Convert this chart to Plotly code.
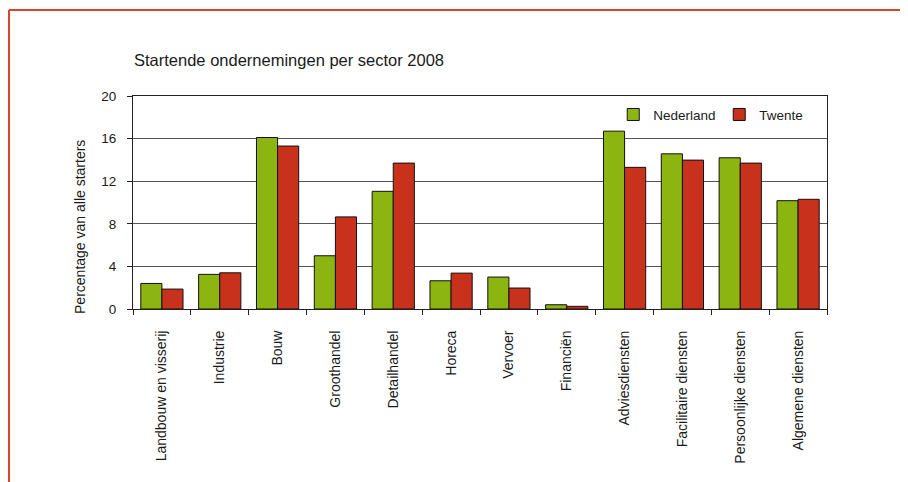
import plotly.graph_objects as go

# ── Data ──────────────────────────────────────
sectors = [
    "Landbouw en visserij", "Industrie", "Bouw", "Groothandel", "Detailhandel",
    "Horeca", "Vervoer", "Financiën", "Adviesdiensten", "Facilitaire diensten",
    "Persoonlijke diensten", "Algemene diensten",
]
nederland = [2.4, 3.25, 16.1, 5.0, 11.05, 2.65, 3.0, 0.4, 16.7, 14.57, 14.2, 10.17]
twente = [1.87, 3.4, 15.3, 8.65, 13.7, 3.37, 1.97, 0.25, 13.3, 13.98, 13.7, 10.3]

GREEN = "#8db512"
RED = "#c8321d"
FRAME = "#d9472b"
TEXT = "#1a1a1a"

fig = go.Figure()
fig.add_trace(go.Bar(
    name="Nederland", x=sectors, y=nederland,
    marker=dict(color=GREEN, line=dict(color="#111", width=1)),
))
fig.add_trace(go.Bar(
    name="Twente", x=sectors, y=twente,
    marker=dict(color=RED, line=dict(color="#111", width=1)),
))

# outer frame (top + left edge), paper coords relative to plot area
fig.add_shape(type="line", xref="paper", yref="paper",
              x0=-0.1787, x1=1.2, y0=1.4038, y1=1.4038,
              line=dict(color=FRAME, width=2))
fig.add_shape(type="line", xref="paper", yref="paper",
              x0=-0.1787, x1=-0.1787, y0=1.4038, y1=-0.9,
              line=dict(color=FRAME, width=2))

fig.add_annotation(
    text="Startende ondernemingen per sector 2008",
    xref="paper", yref="paper", x=-0.002, y=1.169,
    xanchor="left", yanchor="middle", showarrow=False,
    font=dict(size=16.5, color=TEXT),
)
# y-axis title (sits lower than centre in the original)
fig.add_annotation(
    text="Percentage van alle starters",
    xref="paper", yref="paper", x=-0.0764, y=0.385,
    xanchor="center", yanchor="middle", showarrow=False, textangle=-90,
    font=dict(size=14, color=TEXT),
)

fig.update_layout(
    width=900, height=474,
    barmode="group", bargap=0.27, bargroupgap=0,
    paper_bgcolor="white", plot_bgcolor="white",
    font=dict(family="Arial, Liberation Sans, sans-serif", size=14, color=TEXT),
    margin=dict(l=125, r=81, t=88, b=173),
    showlegend=True,
    legend=dict(
        orientation="h", x=0.692, y=0.985, xanchor="left", yanchor="top",
        bgcolor="rgba(0,0,0,0)", font=dict(size=13.5),
        itemwidth=30, tracegroupgap=0, entrywidth=61,
    ),
    xaxis=dict(
        tickangle=-90, showline=True, linecolor="#222", linewidth=1,
        ticks="outside", tickson="boundaries", ticklen=5, tickcolor="#222",
        mirror=True, showgrid=False, tickfont=dict(size=14),
        ticklabelstandoff=15,
    ),
    yaxis=dict(
        range=[0, 20], tickvals=[0, 4, 8, 12, 16, 20],
        showline=True, linecolor="#222", linewidth=1, mirror=True,
        ticks="outside", ticklen=5, tickcolor="#222",
        showgrid=True, gridcolor="#555", gridwidth=1,
        zeroline=False, ticklabelstandoff=8,
        tickfont=dict(size=13.5),
    ),
)

fig.write_html("out.html")
